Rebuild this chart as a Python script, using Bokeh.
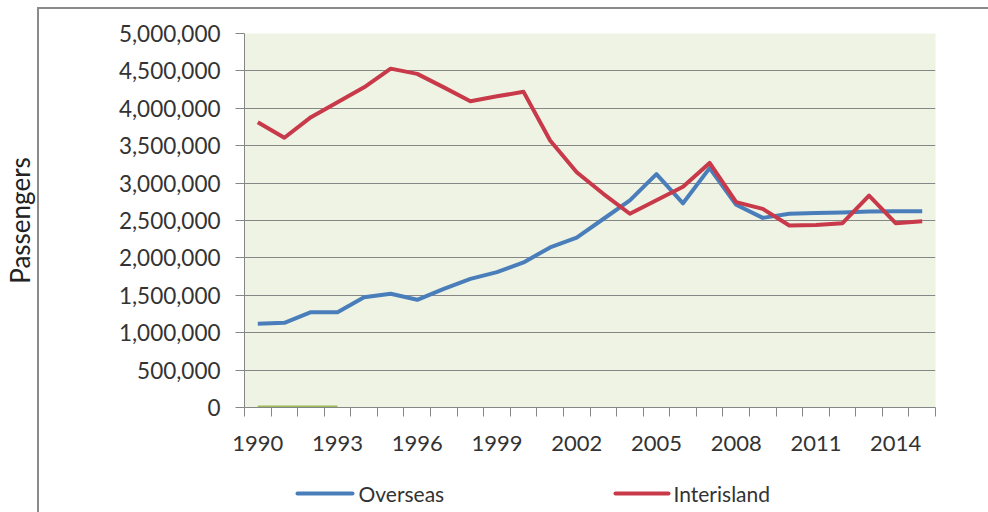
from bokeh.plotting import figure
from bokeh.layouts import column
from bokeh.core.properties import value
from bokeh.models import (Range1d, FixedTicker, NumeralTickFormatter, SingleIntervalTicker)
from bokeh.embed import file_html
from bokeh.resources import INLINE

# ---- data ----
years = list(range(1990, 2016))
overseas = [1119000, 1132000, 1274000, 1274000, 1475000, 1520000, 1440000, 1587000,
            1720000, 1810000, 1940000, 2140000, 2270000, 2520000, 2770000, 3120000,
            2730000, 3200000, 2710000, 2535000, 2590000, 2600000, 2607000, 2620000,
            2625000, 2625000]
interisland = [3814000, 3606000, 3881000, 4080000, 4280000, 4530000, 4460000, 4280000,
               4095000, 4160000, 4220000, 3570000, 3146000, 2857000, 2590000, 2770000,
               2950000, 3270000, 2745000, 2656000, 2433000, 2440000, 2464000, 2834000,
               2464000, 2490000]
other_years = [1990, 1991, 1992, 1993]
other = [0, 0, 0, 0]
tick_years = [1990, 1993, 1996, 1999, 2002, 2005, 2008, 2011, 2014]
series_names = ["Overseas", "Interisland"]
series_colors = ["#4a7ebb", "#c8394a"]
y_label = "Passengers"

FONT = "Lato"
GRAY = "#868686"
BORDER = "#8a8a8a"
TXT = "#333333"

# frame placement (pixels)
FRAME_L, FRAME_R, FRAME_T, FRAME_B = 244, 935, 33, 407
W, H_MAIN, H_LEG = 988, 480, 32

# ---------------- main chart ----------------
p = figure(width=W, height=H_MAIN, output_backend="svg", toolbar_location=None,
           x_range=Range1d(years[0] - 0.5, years[-1] + 0.5),
           y_range=Range1d(0, 5000000),
           min_border_left=FRAME_L, min_border_top=FRAME_T,
           min_border_right=W - FRAME_R, min_border_bottom=H_MAIN - FRAME_B)

p.styles = {
    "background": (f"linear-gradient({BORDER},{BORDER}) 37px 7px / 2px 100% no-repeat, "
                   f"linear-gradient({BORDER},{BORDER}) 37px 7px / 100% 2px no-repeat, #ffffff")
}
p.border_fill_color = None
p.background_fill_color = "#eff3e4"
p.outline_line_color = None

p.xgrid.grid_line_color = None
p.ygrid.grid_line_color = GRAY
p.ygrid.grid_line_width = 1

yax = p.yaxis[0]
yax.ticker = SingleIntervalTicker(interval=500000, num_minor_ticks=0)
yax.formatter = NumeralTickFormatter(format="0,0")
yax.axis_line_color = GRAY
yax.major_tick_line_color = GRAY
yax.major_tick_out = 9
yax.major_tick_in = 0
yax.minor_tick_line_color = None
yax.major_label_text_font = FONT
yax.major_label_text_font_size = "22.5px"
yax.major_label_text_color = TXT
yax.major_label_standoff = 15
yax.axis_label = y_label
yax.axis_label_text_font = FONT
yax.axis_label_text_font_size = "26px"
yax.axis_label_text_font_style = "normal"
yax.axis_label_text_color = "#222222"
yax.axis_label_standoff = 80

xax = p.xaxis[0]
xax.ticker = FixedTicker(ticks=tick_years,
                         minor_ticks=[y - 0.5 for y in years] + [years[-1] + 0.5])
xax.formatter = NumeralTickFormatter(format="0")
xax.axis_line_color = GRAY
xax.major_tick_line_color = None
xax.major_tick_out = 0
xax.major_tick_in = 0
xax.minor_tick_line_color = GRAY
xax.minor_tick_out = 9
xax.minor_tick_in = 0
xax.major_label_text_font = FONT
xax.major_label_text_font_size = "22px"
xax.major_label_text_color = TXT
xax.major_label_standoff = 19

p.line(other_years, other, line_color="#9bbb59", line_width=4)
p.line(years, overseas, line_color=series_colors[0], line_width=4, line_join="round")
p.line(years, interisland, line_color=series_colors[1], line_width=4, line_join="round")

# ---------------- legend strip under the chart ----------------
# The column layout aligns this strip's frame with the chart frame, so its x range
# is set to the page pixel span of that frame (data units == page pixels).
lg = figure(width=W, height=H_LEG, output_backend="svg", toolbar_location=None,
            x_range=Range1d(FRAME_L, FRAME_R), y_range=Range1d(H_LEG, 0),
            x_axis_location=None, y_axis_location=None,
            min_border=0)
lg.styles = {
    "background": f"linear-gradient({BORDER},{BORDER}) 37px 0px / 2px 100% no-repeat, #ffffff"
}
lg.border_fill_color = None
lg.background_fill_color = None
lg.outline_line_color = None
lg.grid.visible = False

swatch_start = [297, 615]
swatch_end = [352, 668]
label_start = [358, 673]
row_y = [13, 13]
lg.segment(x0=swatch_start, y0=row_y, x1=swatch_end, y1=row_y,
           line_color=series_colors, line_width=4, line_cap="round")
lg.text(x=label_start, y=row_y, text=series_names, text_font=value(FONT),
        text_font_size="21px", text_baseline="middle", text_align="left",
        text_color=TXT)

layout = column(p, lg, spacing=0)
open("out.html", "w").write(file_html(layout, INLINE))
